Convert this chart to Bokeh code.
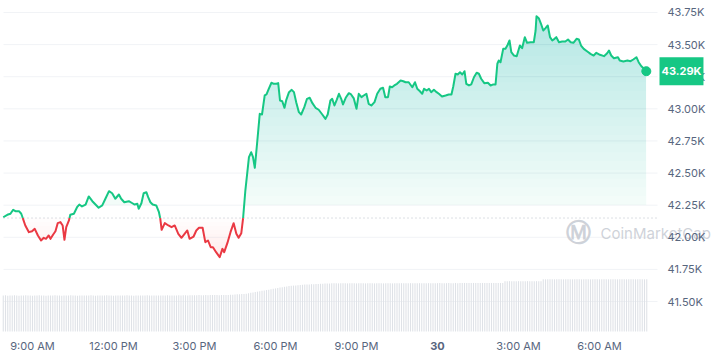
import numpy as np
from bokeh.plotting import figure
from bokeh.models import Range1d, Label
from bokeh.core.properties import value
from bokeh.embed import file_html
from bokeh.resources import INLINE

# ---------------- data ----------------
# minutes since 29 Jan 00:00 (local time)
times = [475, 484, 491, 497, 502, 510, 515, 519, 524, 532,
         539, 545, 552, 559, 565, 570, 576, 580, 586, 591,
         596, 602, 607, 611, 615, 621, 624, 632, 639, 644,
         650, 658, 665, 673, 680, 687, 695, 702, 710, 717,
         724, 732, 737, 744, 754, 762, 767, 773, 776, 782,
         787, 793, 797, 802, 807, 815, 821, 824, 827, 834,
         842, 849, 856, 864, 871, 878, 884, 889, 898, 904,
         910, 918, 924, 930, 936, 941, 948, 956, 962, 966,
         973, 980, 987, 993, 998, 1004, 1008, 1013, 1021, 1026,
         1030, 1034, 1039, 1045, 1050, 1056, 1060, 1065, 1071, 1076,
         1082, 1086, 1090, 1095, 1100, 1104, 1110, 1116, 1121, 1126,
         1132, 1137, 1144, 1150, 1156, 1162, 1169, 1176, 1184, 1191,
         1196, 1202, 1206, 1211, 1216, 1221, 1226, 1230, 1236, 1243,
         1248, 1254, 1260, 1265, 1271, 1276, 1282, 1287, 1293, 1300,
         1306, 1313, 1319, 1324, 1330, 1334, 1339, 1344, 1350, 1358,
         1364, 1369, 1376, 1384, 1390, 1395, 1401, 1406, 1410, 1416,
         1421, 1426, 1432, 1438, 1443, 1450, 1458, 1465, 1471, 1475,
         1480, 1485, 1490, 1495, 1500, 1504, 1510, 1515, 1521, 1527,
         1532, 1537, 1544, 1552, 1558, 1564, 1569, 1573, 1576, 1580,
         1586, 1591, 1596, 1600, 1604, 1610, 1616, 1623, 1628, 1634,
         1639, 1647, 1654, 1658, 1660, 1665, 1670, 1675, 1680, 1685,
         1690, 1695, 1700, 1704, 1710, 1717, 1724, 1730, 1736, 1742,
         1749, 1754, 1759, 1765, 1773, 1780, 1787, 1793, 1801, 1810,
         1817, 1821, 1826, 1832, 1841, 1845, 1853, 1862, 1869, 1875,
         1882, 1887, 1893, 1898, 1904]

prices = [42156, 42175, 42183, 42214, 42203, 42203, 42183, 42144, 42092, 42040,
          42047, 42066, 42014, 41975, 41996, 41988, 42014, 41988, 42022, 42047,
          42110, 42118, 42092, 41980, 42079, 42131, 42175, 42183, 42234, 42255,
          42240, 42255, 42318, 42281, 42255, 42230, 42248, 42300, 42359, 42343,
          42300, 42333, 42300, 42273, 42281, 42265, 42255, 42261, 42222, 42265,
          42343, 42351, 42312, 42273, 42255, 42248, 42195, 42144, 42058, 42110,
          42092, 42079, 42092, 42027, 41996, 42027, 42053, 41988, 42006, 42053,
          42074, 42074, 41962, 41975, 41923, 41923, 41884, 41845, 41910, 41884,
          41954, 42040, 42110, 42027, 41996, 42032, 42150, 42364, 42624, 42662,
          42624, 42541, 42728, 42961, 42956, 43104, 43112, 43156, 43203, 43195,
          43195, 43200, 43065, 43059, 43008, 43070, 43130, 43148, 43130, 43052,
          42974, 42956, 43013, 43078, 43086, 43044, 43008, 42993, 42956, 42922,
          42956, 43065, 43078, 43026, 43070, 43117, 43078, 43034, 43086, 43122,
          43112, 43081, 43000, 43117, 43091, 43104, 43117, 43039, 43026, 43052,
          43117, 43156, 43164, 43091, 43091, 43174, 43168, 43182, 43195, 43221,
          43215, 43207, 43207, 43168, 43207, 43156, 43137, 43117, 43156, 43143,
          43156, 43130, 43148, 43130, 43117, 43096, 43104, 43112, 43112, 43174,
          43273, 43267, 43285, 43267, 43293, 43195, 43182, 43190, 43246, 43281,
          43273, 43234, 43200, 43203, 43182, 43190, 43190, 43351, 43376, 43363,
          43467, 43467, 43499, 43532, 43441, 43415, 43410, 43493, 43472, 43558,
          43514, 43519, 43519, 43610, 43721, 43706, 43662, 43610, 43628, 43649,
          43558, 43532, 43545, 43558, 43519, 43524, 43524, 43540, 43519, 43514,
          43545, 43540, 43493, 43467, 43446, 43428, 43415, 43436, 43421, 43410,
          43433, 43454, 43415, 43394, 43402, 43376, 43369, 43376, 43371, 43384,
          43402, 43363, 43332, 43316, 43293]

base_price = 42150  # opening (reference) price, dotted line

price_ticks = [41500, 41750, 42000, 42250, 42500, 42750, 43000, 43250, 43500, 43750]
price_tick_labels = ["41.50K", "41.75K", "42.00K", "42.25K", "42.50K",
                     "42.75K", "43.00K", "43.25K", "43.50K", "43.75K"]

time_ticks = [540, 720, 900, 1080, 1260, 1440, 1620, 1800]
time_tick_labels = ["9:00 AM", "12:00 PM", "3:00 PM", "6:00 PM", "9:00 PM",
                    "30", "3:00 AM", "6:00 AM"]
day_tick = 1440  # "30" shown in bold

# 24h volume (billion USD), one bar every 5 minutes from 07:55
vol_start = 475
vol_step = 5
volume = (
    [17.8, 17.9, 17.7, 17.8, 17.8, 17.9, 17.8, 17.7, 17.8, 17.8, 17.9, 17.8] +
    [17.8, 17.7, 17.8, 17.8, 17.9, 17.8, 17.8, 17.7, 17.8, 17.8, 17.8, 17.9] +
    [17.8, 17.8, 17.7, 17.8, 17.8, 17.8, 17.9, 17.8, 17.8, 17.7, 17.8, 17.8] +
    [17.8, 17.8, 17.8, 17.9, 17.8, 17.7, 17.8, 17.8, 17.8, 17.8, 17.9, 17.8] +
    [17.8, 17.7, 17.8, 17.8, 17.8, 17.8, 17.8, 17.9, 17.8, 17.8, 17.7, 17.8] +
    [17.8, 17.8, 17.8, 17.8, 17.9, 17.8, 17.8, 17.8, 17.8, 17.8, 17.8, 17.8] +
    [17.8, 17.9, 17.8, 17.8, 17.8, 17.8, 17.9, 17.8, 17.9, 17.9, 17.8, 17.9] +
    [17.9, 17.9, 17.9, 18.0, 17.9, 17.9, 18.0, 17.9, 18.0, 18.0, 18.0, 18.0] +
    [17.9, 18.0, 18.0, 18.1, 18.1, 18.2, 18.2, 18.3, 18.4, 18.4, 18.5, 18.6] +
    [18.7, 18.9, 19.1, 19.3, 19.5, 19.7, 19.9, 20.1, 20.3, 20.5, 20.7, 20.9] +
    [21.1, 21.3, 21.5, 21.7, 21.9, 22.1, 22.3, 22.5, 22.6, 22.7, 22.8, 22.9] +
    [23.0, 23.1, 23.2, 23.3, 23.3, 23.4, 23.4, 23.5, 23.5, 23.6, 23.6, 23.7] +
    [23.7, 23.7, 23.8, 23.8, 23.8, 23.8, 23.8, 23.8, 23.8, 23.8, 23.8, 23.8] +
    [23.8, 23.8, 23.8, 23.9, 23.8, 23.8, 23.8, 23.8, 23.9, 23.8, 23.8, 23.8] +
    [23.8, 23.8, 23.9, 23.8, 23.8, 23.8, 23.9, 23.8, 23.8, 23.9, 23.8, 23.9] +
    [23.9, 23.9, 23.9, 23.9, 23.9, 23.9, 23.9, 23.9, 23.9, 23.9, 23.9, 23.9] +
    [23.9, 23.9, 24.0, 23.9, 23.9, 23.9, 24.0, 23.9, 23.9, 24.0, 23.9, 24.0] +
    [24.0, 24.0, 24.0, 24.0, 24.0, 24.0, 24.0, 24.0, 24.0, 24.0, 24.0, 24.0] +
    [24.0, 24.0, 24.0, 24.0, 24.0, 24.0, 24.0, 24.9, 24.9, 24.9, 24.9, 24.9] +
    [24.9, 24.9, 24.9, 24.9, 24.9, 24.9, 24.9, 24.9, 24.9, 24.9, 24.9, 24.9] +
    [25.8, 25.8, 25.8, 25.8, 25.8, 25.8, 25.8, 25.8, 25.8, 25.8, 25.8, 25.8] +
    [25.8, 25.8, 25.8, 25.8, 25.8, 25.8, 25.8, 25.8, 25.8, 25.8, 25.8, 25.8] +
    [25.8, 25.8, 25.8, 25.8, 25.8, 25.8, 25.8, 25.8, 25.8, 25.8, 25.8, 25.8] +
    [25.8, 25.8, 25.8, 25.8, 25.8, 25.8, 25.8, 25.8, 25.8, 25.8, 25.8]
)

# ---------------- styling / layout ----------------
GREEN = "#16c784"
RED = "#ea3943"
GREY = "#58667e"
FONT = "Inter"

W, H = 724, 361                  # whole canvas is the plotting frame
mpx, ppx = 2.2222, 7.785         # minutes per px, dollars per px
X0 = 468.89                      # minutes at left edge
X1 = X0 + W * mpx
Y1 = 43843.4                     # price at top edge
Y0 = Y1 - H * ppx


def xm(px):   # page x pixel -> minutes
    return X0 + px * mpx


def yp(py):   # page y pixel -> price
    return Y1 - py * ppx


p = figure(width=W, height=H, x_range=Range1d(X0, X1), y_range=Range1d(Y0, Y1),
           x_axis_location=None, y_axis_location=None,
           output_backend="svg", toolbar_location=None,
           min_border=0, background_fill_color="white", border_fill_color="white")
p.outline_line_color = None
p.grid.visible = False

chart_right = xm(657)

# horizontal grid lines
p.segment(x0=[xm(3)] * len(price_ticks), x1=[chart_right] * len(price_ticks),
          y0=price_ticks, y1=price_ticks, line_color="#f1f3f6", line_width=1)

# volume bars
vpx = 36 / 17.8
p.extra_y_ranges = {"vol": Range1d(-30 / vpx, 331 / vpx)}
vt = vol_start + vol_step * np.arange(len(volume))
p.vbar(x=vt, top=volume, bottom=0, width=2.4, y_range_name="vol",
       fill_color="#dfe2e7", line_color=None)

# split the price series at the baseline
t = np.array(times, float)
pr = np.array(prices, float)
xs, ys = [t[0]], [pr[0]]
for i in range(1, len(t)):
    a, b = pr[i - 1] - base_price, pr[i] - base_price
    if a * b < 0:
        f = a / (a - b)
        xs.append(t[i - 1] + f * (t[i] - t[i - 1]))
        ys.append(base_price)
    xs.append(t[i])
    ys.append(pr[i])
xs = np.array(xs)
ys = np.array(ys)

# gradient fills (stacked translucent layers)
top_lvl = price_ticks[-1]
g_start = base_price + 13 * ppx
N = 22
for k in range(N):
    lvl = g_start + k * (top_lvl - g_start) / N
    p.varea(x=xs, y1=np.minimum(lvl, ys), y2=ys, fill_color=GREEN,
            fill_alpha=0.05 if k == 0 else 0.22 / N)
M = 10
low_lvl = base_price - 40 * ppx
for k in range(M):
    lvl = base_price - k * (base_price - low_lvl) / M
    p.varea(x=xs, y1=ys, y2=np.maximum(lvl, ys), fill_color=RED, fill_alpha=0.012)

# dotted baseline
p.segment(x0=[xm(3)], x1=[xm(658)], y0=[base_price], y1=[base_price],
          line_color="#b9bfc9", line_dash="1 3", line_width=1)

green = np.where(ys >= base_price, ys, np.nan)
red = np.where(ys <= base_price, ys, np.nan)
p.line(xs, red, line_color=RED, line_width=2, line_join="round")
p.line(xs, green, line_color=GREEN, line_width=2, line_join="round")
p.scatter([times[-1]], [prices[-1]], size=9, fill_color=GREEN, line_color=GREEN)

# watermark
p.text(x=[xm(578)], y=[yp(232)], text=["Ⓜ"], text_font=value("DejaVu Sans"),
       text_font_size="25px", text_font_style="bold", text_color="#c6cad2",
       text_alpha=0.85, text_align="center", text_baseline="middle")
p.text(x=[xm(600)], y=[yp(233)], text=["CoinMarketCap"], text_font=value(FONT),
       text_font_size="15px", text_color="#c6cad2", text_alpha=0.85,
       text_align="left", text_baseline="middle")

# right price axis labels
p.text(x=[xm(667)] * len(price_ticks), y=price_ticks, text=price_tick_labels,
       text_font=value(FONT), text_font_size="11px", text_color=GREY,
       text_align="left", text_baseline="middle")

# bottom time axis labels
lab_y = yp(345)
norm = [i for i, tk in enumerate(time_ticks) if tk != day_tick]
p.text(x=[time_ticks[i] for i in norm], y=[lab_y] * len(norm),
       text=[time_tick_labels[i] for i in norm], text_font=value(FONT),
       text_font_size="11px", text_color=GREY, text_align="center", text_baseline="middle")
di = time_ticks.index(day_tick)
p.text(x=[day_tick], y=[lab_y], text=[time_tick_labels[di]], text_font=value(FONT),
       text_font_size="11px", text_font_style="bold", text_color=GREY,
       text_align="center", text_baseline="middle")

# last price tag
p.add_layout(Label(x=xm(659), y=prices[-1], text=f"{prices[-1] / 1000:.2f}K",
                   text_font=FONT, text_font_size="11px", text_font_style="bold",
                   text_color="white", text_align="left", text_baseline="middle",
                   background_fill_color=GREEN, padding=(2, 7)))

open("out.html", "w").write(file_html(p, INLINE))
